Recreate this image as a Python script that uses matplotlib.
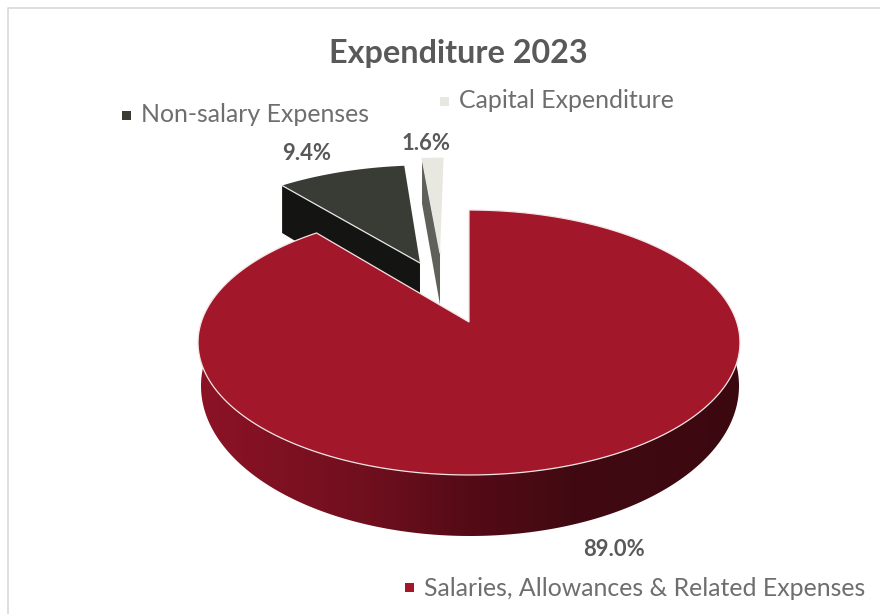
import numpy as np
import matplotlib
matplotlib.use("Agg")
import matplotlib.pyplot as plt
from matplotlib.colors import LinearSegmentedColormap
from matplotlib.patches import Polygon, Rectangle

title = "Expenditure 2023"
categories = ["Salaries, Allowances & Related Expenses", "Non-salary Expenses", "Capital Expenditure"]
values = [89.0, 9.4, 1.6]
top_colors = ["#A21729", "#393B35", "#E8E8E0"]
side_colors = [None, "#141512", "#5F6059"]
explode = [(0.0, 0.0), (-0.197, -0.491), (-0.118, -0.583)]
side_stops = [(0.0, "#8C1326"), (0.315, "#6F0F1E"), (0.5, "#540B16"), (0.685, "#410A12"), (1.0, "#3C0810")]

plt.rcParams["font.family"] = ["Lato", "DejaVu Sans"]
fig = plt.figure(figsize=(8.8, 6.14), dpi=100)
ax = fig.add_axes([0, 0, 1, 1])
ax.set_xlim(0, 880)
ax.set_ylim(614, 0)
ax.axis("off")

# picture frame: left and top edges only
ax.plot([8, 8, 880], [614, 7.5, 7.5], color="#D9D9D9", lw=1.2, zorder=1)

# perspective projection of the pie plane
X0, Y0, A, B, P, DEPTH = 469.0, 322.0, 267.7, 129.3, -0.1547, 51.6
SLICE_DEPTH = 1.1


def project(px, py, z=0.0):
    w = 1 + P * py
    return X0 + A * px / w, Y0 + (B * py + DEPTH * z) / w


def rim(t1, t2, e=(0.0, 0.0), z=0.0, n=240):
    th = np.radians(np.linspace(t1, t2, n))
    return project(e[0] + np.sin(th), e[1] - np.cos(th), z)


angles = np.cumsum([0.0] + [v / sum(values) * 360 for v in values])

# lower outline of the big slice, as its own ellipse
LOW_CX, LOW_CY, LOW_RX, LOW_RY = 470.0, 386.0, 269.0, 150.0
SIDE_START_Y = 358.0
phi = np.linspace(-0.18, np.pi + 0.18, 240)
low_x = LOW_CX + LOW_RX * np.cos(phi)
low_y = LOW_CY + LOW_RY * np.sin(phi)
# top rim, right -> left through the front, only where the wall shows
tx, ty = rim(0, 360, n=1441)
ir, il = np.argmax(tx), np.argmin(tx)
fx, fy = tx[ir:il + 1], ty[ir:il + 1]
keep = fy >= SIDE_START_Y
side_path = np.column_stack([np.r_[fx[keep], low_x], np.r_[fy[keep], low_y]])
side_poly = Polygon(side_path, closed=True, fc="none", ec="none", transform=ax.transData)
ax.add_patch(side_poly)
cmap = LinearSegmentedColormap.from_list("side", side_stops)
img = ax.imshow(np.linspace(0, 1, 256)[None, :], cmap=cmap, aspect="auto",
                extent=(199, 741, 545, 340), zorder=3)
img.set_clip_path(side_poly)
ax.set_xlim(0, 880)
ax.set_ylim(614, 0)

# exploded slices (behind the big one)
for i in (1, 2):
    t1, t2 = angles[i], angles[i + 1]
    e = explode[i]
    ax_, ay_ = project(e[0], e[1])
    bx_, by_ = project(e[0], e[1], SLICE_DEPTH)
    ox, oy = rim(t1, t1, e, n=1)
    obx, oby = rim(t1, t1, e, z=SLICE_DEPTH, n=1)
    ax.add_patch(Polygon([(ox[0], oy[0]), (ax_, ay_), (bx_, by_), (obx[0], oby[0])],
                         closed=True, fc=side_colors[i], ec="none", zorder=2))
    rx, ry = rim(t1, t2, e, n=40)
    ax.add_patch(Polygon(np.column_stack([np.r_[ax_, rx], np.r_[ay_, ry]]),
                         closed=True, fc=top_colors[i], ec="none", zorder=2.5))
    ax.plot([ox[0], ax_], [oy[0], ay_], color="#E8E8E8", lw=0.9, zorder=2.6)

# big slice top face
rx, ry = rim(angles[0], angles[1], n=720)
ax.add_patch(Polygon(np.column_stack([np.r_[X0, rx], np.r_[Y0, ry]]), closed=True,
                     fc=top_colors[0], ec="#F2E6E6", lw=0.9, zorder=4))

# data labels
label_pos = [(614.5, 549), (306.5, 154), (426, 143)]
for v, (x, y) in zip(values, label_pos):
    ax.text(x, y, f"{v:.1f}%", ha="center", va="center", fontsize=15.8,
            fontweight="bold", color="#595959", zorder=6)

# legend
legend_pos = [(424, 588), (141, 115), (459, 101)]
legend_swatch = [(409, 587), (126, 115), (444, 101)]
for name, c, (x, y), (sx, sy) in zip(categories, top_colors, legend_pos, legend_swatch):
    ax.text(x, y, name, ha="left", va="center", fontsize=17.9, color="#6E6E6E", zorder=6)
    ax.add_patch(Rectangle((sx - 4.5, sy - 4.5), 9, 9, fc=c, ec="none", zorder=6))

ax.text(458, 54, title, ha="center", va="center", fontsize=23.3, fontweight="bold",
        color="#595959", zorder=6)

fig.savefig("out.png", dpi=100)
